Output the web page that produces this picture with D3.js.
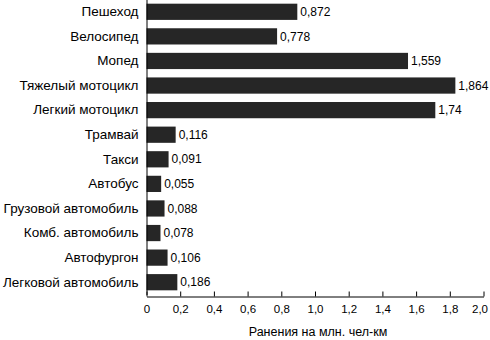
<!DOCTYPE html>
<html><head><meta charset="utf-8">
<script src="https://cdn.jsdelivr.net/npm/d3@7"></script>
<style>body{margin:0;background:#fff}svg{display:block}text{font-family:"Liberation Sans",Arial,sans-serif}</style>
</head><body><svg id="c" width="490" height="340"></svg>
<script>
const categories = ["Пешеход","Велосипед","Мопед","Тяжелый мотоцикл","Легкий мотоцикл","Трамвай","Такси","Автобус","Грузовой автомобиль","Комб. автомобиль","Автофургон","Легковой автомобиль"];
// bar lengths as drawn in the picture
const values = [0.895,0.775,1.552,1.833,1.714,0.173,0.131,0.087,0.107,0.083,0.125,0.183];
// value labels as printed in the picture
const valueLabels = ["0,872","0,778","1,559","1,864","1,74","0,116","0,091","0,055","0,088","0,078","0,106","0,186"];
const xTicks = [0,0.2,0.4,0.6,0.8,1.0,1.2,1.4,1.6,1.8,2.0];
const xTickLabels = ["0","0,2","0,4","0,6","0,8","1,0","1,2","1,4","1,6","1,8","2,0"];
const axisTitle = "Ранения на млн. чел-км";

const svg = d3.select("#c");
const x = d3.scaleLinear().domain([0,2]).range([146.5,483.5]);
const y = d3.scaleBand().domain(categories).range([-0.5,294.5]).paddingInner(0.34).paddingOuter(0.17);

svg.append("g").selectAll("rect").data(values).join("rect")
  .attr("x", x(0)).attr("y",(d,i)=>y(categories[i]))
  .attr("width", d=>x(d)-x(0)).attr("height", y.bandwidth())
  .attr("fill","#262626");

svg.append("g").selectAll("text").data(values).join("text")
  .attr("x", d=>x(d)+3).attr("y",(d,i)=>y(categories[i])+y.bandwidth()/2)
  .attr("dy","0.35em").attr("font-size",12).attr("fill","#000")
  .text((d,i)=>valueLabels[i]);

// y axis
const ya = svg.append("g").attr("transform",`translate(${x(0)},0)`)
  .call(d3.axisLeft(y).tickSize(0).tickPadding(8));
ya.select(".domain").attr("stroke","#000");
ya.selectAll("text").attr("font-size",13.5).attr("font-family","Liberation Sans, Arial, sans-serif").attr("fill","#000");

// x axis
const xa = svg.append("g").attr("transform","translate(0,296.5)")
  .call(d3.axisBottom(x).tickValues(xTicks).tickSizeInner(-5).tickSizeOuter(0).tickPadding(8)
    .tickFormat((d,i)=>xTickLabels[i]));
xa.select(".domain").attr("stroke","#000");
xa.selectAll("line").attr("stroke","#000");
xa.selectAll("text").attr("font-size",11.5).attr("font-family","Liberation Sans, Arial, sans-serif").attr("fill","#000");
xa.selectAll(".tick").filter(d=>d===2).select("text").attr("text-anchor","end").attr("dx",4);

svg.append("text").attr("x",318).attr("y",336).attr("text-anchor","middle")
  .attr("font-size",12.5).attr("fill","#000").text(axisTitle);
</script></body></html>
